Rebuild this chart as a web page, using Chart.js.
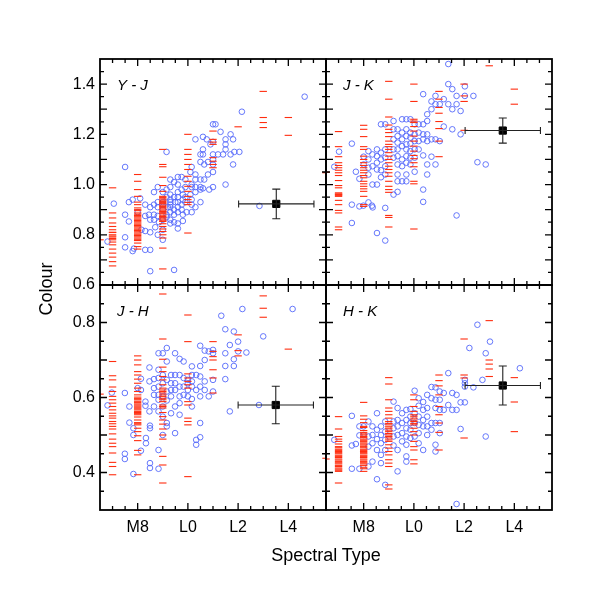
<!DOCTYPE html>
<html>
<head>
<meta charset="utf-8">
<script src="https://cdn.jsdelivr.net/npm/chart.js@4.4.1/dist/chart.umd.min.js"></script>
<style>
  body { margin: 0; background: #fff; }
  #wrap { position: relative; width: 613px; height: 600px; font-family: Arial, "Liberation Sans", sans-serif; color: #000; }
  #wrap canvas { position: absolute; left: 0; top: 0; }
  .axisTitle { position: absolute; font-size: 18px; line-height: 20px; white-space: nowrap; text-align: center; }
  #xTitle { left: 226px; top: 545px; width: 200px; }
  #yTitle { left: -4px; top: 279px; width: 100px; transform: rotate(-90deg); }
</style>
</head>
<body>
<div id="wrap">
  <canvas id="yj" width="613" height="600"></canvas>
  <canvas id="jk" width="613" height="600"></canvas>
  <canvas id="jh" width="613" height="600"></canvas>
  <canvas id="hk" width="613" height="600"></canvas>
  <div class="axisTitle" id="xTitle">Spectral Type</div>
  <div class="axisTitle" id="yTitle">Colour</div>
</div>
<script>
// spectral type axis: 8 = M8, 10 = L0, 12 = L2 ...
const xLabelVals = [8, 10, 12, 14];
const yTopLabelVals = [0.6, 0.8, 1.0, 1.2, 1.4];
const yBotLabelVals = [0.4, 0.6, 0.8];

// ---- Y - J ----
const yjDashes = [
  [6.5, [0.78]],
  [7, [0.987, 0.887, 0.867, 0.847, 0.833, 0.82, 0.81, 0.809, 0.8, 0.795, 0.791, 0.785, 0.78, 0.771, 0.76, 0.743, 0.727, 0.711, 0.693, 0.676]],
  [8, [1.04, 1.013, 0.98, 0.953, 0.93, 0.92, 0.907, 0.9, 0.896, 0.887, 0.882, 0.877, 0.872, 0.867, 0.862, 0.857, 0.852, 0.847, 0.842,
       0.837, 0.832, 0.827, 0.822, 0.817, 0.812, 0.807, 0.802, 0.797, 0.792, 0.787, 0.782, 0.777, 0.767, 0.753, 0.743]],
  [9, [1.14, 1.08, 1.071, 1.029, 0.996, 0.973, 0.953, 0.948, 0.943, 0.938, 0.933, 0.928, 0.924, 0.918, 0.913, 0.908, 0.903, 0.898,
       0.893, 0.888, 0.884, 0.878, 0.873, 0.868, 0.863, 0.858, 0.853, 0.844, 0.833, 0.823, 0.813, 0.8, 0.787, 0.747, 0.664]],
  [10, [1.2, 1.14, 1.12, 1.1, 1.08, 1.06, 1.033, 1.013, 0.993, 0.973, 0.953, 0.94, 0.929, 0.92, 0.807]],
  [11, [1.213, 1.18, 1.169, 1.16, 1.107, 1.093, 1.08, 1.067]],
  [12, [1.23]],
  [13, [1.371, 1.267, 1.247, 1.227]],
  [14, [1.267, 1.196]],
  [15.5, [1.047]]
];
const yjCircles = [
  [6.8, 0.773], [7.05, 0.924], [7.5, 1.07], [7.5, 0.88], [7.5, 0.79], [7.5, 0.75], [7.65, 0.853], [7.65, 0.93],
  [7.8, 0.735], [7.85, 0.745], [7.8, 0.94], [8.0, 0.89], [8.1, 0.945], [8.15, 0.82], [8.3, 0.92], [8.3, 0.875],
  [8.3, 0.815], [8.3, 0.74], [8.5, 0.74], [8.5, 0.655], [8.5, 0.91], [8.5, 0.86], [8.5, 0.81], [8.45, 0.88],
  [8.65, 0.88], [8.65, 0.86], [8.7, 0.83], [8.65, 0.92], [8.65, 0.97], [8.8, 0.99], [8.8, 0.93], [8.8, 0.91],
  [8.8, 0.875], [8.8, 0.8], [8.85, 0.85], [9.0, 0.97], [9.0, 0.93], [9.0, 0.92], [9.0, 0.9], [9.0, 0.86],
  [9.0, 0.82], [9.0, 0.78], [9.15, 1.13], [9.15, 0.98], [9.15, 0.95], [9.2, 0.91], [9.15, 0.88], [9.15, 0.87],
  [9.3, 1.02], [9.3, 0.99], [9.3, 0.96], [9.3, 0.94], [9.3, 0.93], [9.3, 0.92], [9.3, 0.91], [9.3, 0.89],
  [9.3, 0.86], [9.3, 0.845], [9.45, 1.01], [9.45, 0.95], [9.5, 0.93], [9.45, 0.9], [9.45, 0.88], [9.45, 0.85],
  [9.45, 0.66], [9.6, 1.03], [9.6, 1.0], [9.6, 0.97], [9.6, 0.95], [9.6, 0.93], [9.6, 0.91], [9.6, 0.89],
  [9.6, 0.845], [9.6, 0.825], [9.75, 1.03], [9.75, 0.98], [9.8, 0.96], [9.8, 0.94], [9.75, 0.92], [9.75, 0.9],
  [9.8, 0.88], [9.8, 0.855], [9.9, 1.02], [9.9, 0.99], [9.9, 0.95], [9.9, 0.93], [9.95, 0.89], [10.15, 1.07],
  [10.1, 1.05], [10.15, 1.0], [10.15, 0.99], [10.1, 0.96], [10.15, 0.94], [10.15, 0.92], [10.15, 0.89], [10.3, 1.18],
  [10.3, 1.04], [10.3, 1.02], [10.3, 0.99], [10.3, 0.97], [10.3, 0.91], [10.5, 1.12], [10.5, 1.09], [10.5, 1.02],
  [10.5, 0.99], [10.5, 0.98], [10.5, 0.93], [10.6, 1.19], [10.6, 1.14], [10.6, 1.12], [10.65, 1.08], [10.65, 1.02],
  [10.6, 0.985], [10.75, 1.18], [10.8, 1.09], [10.8, 1.04], [10.85, 0.98], [10.9, 1.16], [11.0, 1.24], [11.0, 1.17],
  [11.0, 1.12], [11.0, 1.1], [11.0, 1.08], [11.0, 1.05], [11.0, 0.99], [11.1, 1.24], [11.3, 1.21], [11.2, 1.12],
  [11.5, 1.18], [11.5, 1.16], [11.5, 1.14], [11.4, 1.12], [11.5, 1.0], [11.7, 1.2], [11.8, 1.18], [11.7, 1.12],
  [11.85, 1.13], [11.8, 1.08], [12.05, 1.13], [12.15, 1.29], [12.85, 0.915], [14.65, 1.35]
];
const yjError = [13.52, 0.923, 1.5, 0.059];

// ---- J - K ----
const jkDashes = [
  [6.5, [1.049]],
  [7, [1.211, 1.151, 1.111, 1.087, 1.076, 1.067, 1.057, 1.047, 1.036, 1.016, 0.996, 0.987, 0.967, 0.963, 0.96, 0.957, 0.953, 0.937, 0.92, 0.897, 0.887, 0.831, 0.82]],
  [8, [1.236, 1.22, 1.191, 1.151, 1.14, 1.113, 1.1, 1.087, 1.076, 1.067, 1.057, 1.047, 1.036, 1.027, 1.013, 1.003, 0.993, 0.983, 0.973, 0.953, 0.92, 0.913]],
  [9, [1.411, 1.34, 1.269, 1.237, 1.22, 1.207, 1.191, 1.173, 1.16, 1.151, 1.14, 1.127, 1.113, 1.1, 1.087, 1.073, 1.06, 1.047, 1.033, 1.013, 0.993, 0.98, 0.969, 0.877, 0.869, 0.831]],
  [10, [1.4, 1.331, 1.26, 1.253, 1.247, 1.231, 1.213, 1.193, 1.173, 1.153, 1.133, 1.116, 1.103, 1.087, 1.071, 1.013, 1.003, 0.823]],
  [11, [1.371, 1.34, 1.307, 1.284, 1.251, 1.223, 1.173, 1.111]],
  [12, [1.4, 1.353, 1.331, 1.216]],
  [13, [1.473]],
  [14, [1.38, 1.32]]
];
const jkCircles = [
  [6.83, 1.071], [7.02, 1.131], [7.53, 1.163], [7.53, 0.92], [7.53, 0.847], [7.69, 1.051], [7.83, 1.023], [7.83, 0.913],
  [7.99, 0.916], [8.19, 0.929], [8.33, 0.916], [8.36, 0.909], [8.0, 1.111], [8.0, 1.08], [8.19, 1.133], [8.19, 1.1],
  [8.19, 1.067], [8.19, 1.04], [8.35, 1.12], [8.35, 1.073], [8.35, 1.0], [8.53, 1.14], [8.53, 1.113], [8.53, 1.087],
  [8.53, 1.06], [8.53, 1.0], [8.53, 0.807], [8.69, 1.24], [8.69, 1.127], [8.69, 1.1], [8.69, 1.057], [8.69, 1.029],
  [8.86, 1.24], [8.86, 1.14], [8.86, 1.107], [8.86, 1.073], [8.86, 1.04], [8.86, 0.907], [8.86, 0.777], [9.19, 1.253],
  [9.19, 1.22], [9.19, 1.18], [9.19, 1.14], [9.19, 1.107], [9.19, 0.96], [9.35, 1.22], [9.35, 1.193], [9.35, 1.167],
  [9.35, 1.14], [9.35, 1.113], [9.35, 1.08], [9.35, 1.04], [9.35, 1.013], [9.35, 0.971], [9.53, 1.26], [9.53, 1.207],
  [9.53, 1.18], [9.53, 1.153], [9.53, 1.1], [9.53, 1.073], [9.53, 1.013], [9.7, 1.26], [9.7, 1.22], [9.7, 1.193],
  [9.7, 1.16], [9.7, 1.14], [9.7, 1.113], [9.7, 1.087], [9.7, 1.04], [9.7, 1.013], [9.86, 1.26], [9.86, 1.207],
  [9.86, 1.187], [9.86, 1.163], [9.86, 1.133], [9.86, 1.107], [9.86, 1.08], [10.03, 1.24], [10.03, 1.2], [10.03, 1.173],
  [10.03, 1.14], [10.03, 1.107], [10.03, 1.051], [10.19, 1.24], [10.19, 1.207], [10.19, 1.173], [10.19, 1.14], [10.37, 1.36],
  [10.37, 1.24], [10.37, 1.2], [10.37, 1.18], [10.37, 1.116], [10.37, 0.98], [10.37, 0.931], [10.53, 1.28], [10.53, 1.253],
  [10.53, 1.2], [10.53, 1.173], [10.53, 1.08], [10.53, 1.04], [10.7, 1.331], [10.7, 1.3], [10.7, 1.18], [10.7, 1.111],
  [10.86, 1.353], [10.86, 1.32], [10.86, 1.18], [10.86, 1.08], [11.03, 1.32], [11.03, 1.173], [11.19, 1.34], [11.19, 1.231],
  [11.37, 1.48], [11.37, 1.4], [11.37, 1.32], [11.53, 1.38], [11.53, 1.3], [11.53, 1.22], [11.7, 1.353], [11.7, 1.32],
  [11.7, 0.877], [11.86, 1.293], [11.86, 1.2], [12.03, 1.391], [12.03, 1.353], [12.37, 1.353], [12.53, 1.089], [12.86, 1.08]
];
const jkError = [13.54, 1.215, 1.5, 0.05];

// ---- J - H ----
const jhDashes = [
  [6.5, [0.609]],
  [7, [0.696, 0.658, 0.647, 0.628, 0.616, 0.603, 0.594, 0.585, 0.576, 0.567, 0.558, 0.551, 0.545, 0.536, 0.53, 0.523, 0.516, 0.503, 0.489, 0.478, 0.469, 0.452, 0.427, 0.416, 0.394]],
  [8, [0.711, 0.7, 0.687, 0.669, 0.66, 0.649, 0.638, 0.625, 0.616, 0.607, 0.601, 0.597, 0.594, 0.59, 0.587, 0.583, 0.58, 0.577,
       0.574, 0.57, 0.567, 0.563, 0.56, 0.557, 0.554, 0.548, 0.54, 0.533, 0.53, 0.527, 0.518, 0.509, 0.498, 0.485, 0.459, 0.447, 0.394]],
  [9, [0.876, 0.756, 0.702, 0.681, 0.669, 0.656, 0.647, 0.634, 0.625, 0.62, 0.616, 0.612, 0.607, 0.603, 0.598, 0.594, 0.589, 0.58,
       0.576, 0.572, 0.56, 0.549, 0.54, 0.529, 0.516, 0.5, 0.489, 0.443, 0.42, 0.372]],
  [10, [0.82, 0.749, 0.663, 0.652, 0.643, 0.634, 0.625, 0.589, 0.58, 0.545, 0.536, 0.527, 0.389]],
  [11, [0.749, 0.723, 0.709, 0.7, 0.674, 0.652, 0.612]],
  [12, [0.767, 0.725, 0.711]],
  [13, [0.871, 0.838, 0.814]],
  [14, [0.729]],
  [15.5, [0.438]]
];
const jhCircles = [
  [6.8, 0.579], [6.97, 0.613], [7.49, 0.612], [7.49, 0.45], [7.49, 0.436], [7.67, 0.576], [7.67, 0.533], [7.83, 0.518],
  [7.83, 0.5], [7.83, 0.396], [8.0, 0.625], [8.13, 0.65], [8.13, 0.62], [8.13, 0.458], [8.31, 0.589], [8.31, 0.578],
  [8.33, 0.492], [8.33, 0.478], [8.47, 0.68], [8.47, 0.643], [8.47, 0.563], [8.49, 0.525], [8.49, 0.518], [8.49, 0.425],
  [8.49, 0.412], [8.65, 0.649], [8.65, 0.625], [8.65, 0.607], [8.65, 0.576], [8.83, 0.718], [8.83, 0.674], [8.83, 0.652],
  [8.83, 0.629], [8.83, 0.607], [8.83, 0.594], [8.83, 0.563], [8.83, 0.46], [8.83, 0.41], [9.0, 0.718], [9.0, 0.66],
  [9.0, 0.638], [9.0, 0.603], [9.0, 0.576], [9.0, 0.549], [9.0, 0.5], [9.16, 0.732], [9.16, 0.696], [9.16, 0.647],
  [9.16, 0.616], [9.16, 0.592], [9.16, 0.532], [9.16, 0.523], [9.33, 0.66], [9.33, 0.638], [9.33, 0.62], [9.33, 0.603],
  [9.33, 0.558], [9.49, 0.718], [9.49, 0.66], [9.49, 0.638], [9.49, 0.62], [9.49, 0.576], [9.49, 0.505], [9.67, 0.703],
  [9.67, 0.66], [9.67, 0.629], [9.67, 0.603], [9.67, 0.585], [9.67, 0.554], [9.83, 0.696], [9.83, 0.652], [9.83, 0.629],
  [9.83, 0.607], [10.0, 0.647], [10.0, 0.638], [10.0, 0.62], [10.0, 0.603], [10.16, 0.683], [10.16, 0.66], [10.16, 0.643],
  [10.16, 0.629], [10.16, 0.596], [10.16, 0.576], [10.33, 0.66], [10.33, 0.62], [10.33, 0.487], [10.33, 0.474], [10.49, 0.738],
  [10.49, 0.684], [10.49, 0.656], [10.49, 0.629], [10.49, 0.603], [10.49, 0.532], [10.49, 0.494], [10.67, 0.725], [10.67, 0.7],
  [10.67, 0.643], [10.67, 0.62], [10.83, 0.723], [10.83, 0.603], [11.0, 0.727], [11.0, 0.718], [11.0, 0.616], [11.0, 0.647],
  [11.33, 0.818], [11.49, 0.782], [11.49, 0.718], [11.49, 0.684], [11.49, 0.649], [11.67, 0.74], [11.67, 0.563], [11.83, 0.776],
  [11.83, 0.702], [11.83, 0.684], [12.0, 0.749], [12.0, 0.723], [12.17, 0.836], [12.33, 0.72], [12.83, 0.58], [13.0, 0.763],
  [14.17, 0.836]
];
const jhError = [13.5, 0.58, 1.5, 0.05];

// ---- H - K ----
const hkDashes = [
  [6.5, [0.436]],
  [7, [0.549, 0.516, 0.496, 0.489, 0.483, 0.476, 0.469, 0.466, 0.462, 0.459, 0.456, 0.453, 0.45, 0.446, 0.443, 0.44, 0.436, 0.433,
       0.429, 0.426, 0.423, 0.419, 0.416, 0.412, 0.409, 0.406, 0.403, 0.372]],
  [8, [0.587, 0.551, 0.542, 0.533, 0.523, 0.52, 0.512, 0.507, 0.503, 0.5, 0.496, 0.493, 0.489, 0.486, 0.483, 0.479, 0.476, 0.473,
       0.469, 0.466, 0.462, 0.459, 0.456, 0.453, 0.45, 0.446, 0.443, 0.44, 0.436, 0.433, 0.429, 0.426, 0.423, 0.419, 0.414, 0.41, 0.403]],
  [9, [0.653, 0.636, 0.594, 0.572, 0.563, 0.554, 0.545, 0.536, 0.531, 0.527, 0.522, 0.518, 0.513, 0.509, 0.504, 0.5, 0.496, 0.492,
       0.487, 0.483, 0.474, 0.465, 0.456, 0.447, 0.434, 0.425, 0.416, 0.367, 0.356]],
  [10, [0.607, 0.594, 0.576, 0.563, 0.554, 0.55, 0.545, 0.54, 0.536, 0.531, 0.527, 0.518, 0.509, 0.5, 0.483, 0.469, 0.46, 0.434, 0.423]],
  [11, [0.66, 0.645, 0.631, 0.607, 0.576, 0.554, 0.532, 0.507, 0.46]],
  [12, [0.756, 0.66, 0.652, 0.492]],
  [13, [0.805, 0.7, 0.689, 0.676, 0.656]],
  [14, [0.653, 0.588, 0.509]]
];
const hkCircles = [
  [6.83, 0.487], [7.53, 0.551], [7.53, 0.472], [7.69, 0.476], [7.53, 0.41], [7.83, 0.523], [7.83, 0.499], [7.83, 0.41],
  [8.0, 0.523], [8.0, 0.5], [8.19, 0.536], [8.19, 0.496], [8.19, 0.469], [8.19, 0.416], [8.35, 0.523], [8.35, 0.5],
  [8.35, 0.478], [8.35, 0.429], [8.53, 0.558], [8.53, 0.514], [8.53, 0.489], [8.53, 0.46], [8.53, 0.382], [8.69, 0.523],
  [8.69, 0.5], [8.69, 0.478], [8.69, 0.447], [8.69, 0.425], [8.86, 0.536], [8.86, 0.509], [8.86, 0.487], [8.86, 0.46],
  [8.86, 0.367], [9.19, 0.589], [9.19, 0.536], [9.19, 0.518], [9.19, 0.496], [9.19, 0.472], [9.35, 0.572], [9.35, 0.54],
  [9.35, 0.523], [9.35, 0.5], [9.35, 0.46], [9.35, 0.403], [9.53, 0.558], [9.53, 0.532], [9.53, 0.505], [9.53, 0.483],
  [9.7, 0.567], [9.7, 0.54], [9.7, 0.518], [9.7, 0.496], [9.7, 0.474], [9.7, 0.443], [9.7, 0.429], [9.86, 0.569],
  [9.86, 0.549], [9.86, 0.532], [9.86, 0.514], [9.86, 0.492], [10.03, 0.618], [10.03, 0.558], [10.03, 0.532], [10.03, 0.496],
  [10.19, 0.598], [10.19, 0.578], [10.19, 0.549], [10.19, 0.527], [10.19, 0.505], [10.19, 0.478], [10.37, 0.588], [10.37, 0.567],
  [10.37, 0.54], [10.37, 0.523], [10.37, 0.46], [10.53, 0.607], [10.53, 0.572], [10.53, 0.549], [10.53, 0.523], [10.53, 0.5],
  [10.7, 0.628], [10.7, 0.598], [10.7, 0.532], [10.7, 0.514], [10.86, 0.627], [10.86, 0.594], [10.86, 0.572], [10.86, 0.532],
  [10.86, 0.474], [10.86, 0.456], [11.03, 0.616], [11.03, 0.594], [11.03, 0.567], [11.03, 0.532], [11.03, 0.505], [11.19, 0.612],
  [11.19, 0.567], [11.37, 0.665], [11.37, 0.58], [11.53, 0.612], [11.53, 0.567], [11.7, 0.607], [11.7, 0.567], [11.7, 0.316],
  [11.86, 0.587], [11.86, 0.516], [12.03, 0.647], [12.03, 0.638], [12.03, 0.629], [12.03, 0.587], [12.21, 0.732], [12.37, 0.627],
  [12.53, 0.794], [12.73, 0.647], [12.86, 0.718], [12.86, 0.496], [13.03, 0.749], [14.22, 0.678]
];
const hkError = [13.54, 0.632, 1.5, 0.052];

const RED = "rgb(255, 45, 15)";
const BLUE = "rgb(85, 105, 250)";

function typeName(v) {
  return v < 10 ? "M" + v : "L" + (v - 10);
}

function dashPoints(cols) {
  const pts = [];
  cols.forEach(([type, vals]) => vals.forEach(v => pts.push({ x: type, y: v })));
  return pts;
}

// tick positions for the inward tick marks
function stepTicks(from, to, step, majorEvery) {
  const out = [];
  const n = Math.round((to - from) / step);
  for (let k = 1; k < n; k++) {
    const v = from + k * step;
    const major = Math.abs(v / majorEvery - Math.round(v / majorEvery)) < 1e-6;
    out.push({ v, major });
  }
  return out;
}

const framePlugin = {
  id: "frame",
  afterDatasetsDraw(chart, args, opts) {
    const { ctx, chartArea: a, scales: { x, y } } = chart;
    ctx.save();

    // error bar of the black square
    const [ex, ey, dx, dy] = opts.err;
    const px = x.getPixelForValue(ex), py = y.getPixelForValue(ey);
    const x0 = x.getPixelForValue(ex - dx), x1 = x.getPixelForValue(ex + dx);
    const y0 = y.getPixelForValue(ey - dy), y1 = y.getPixelForValue(ey + dy);
    ctx.strokeStyle = "#222";
    ctx.lineWidth = 1.1;
    ctx.beginPath();
    ctx.moveTo(x0, py); ctx.lineTo(x1, py);
    ctx.moveTo(x0, py - 3.5); ctx.lineTo(x0, py + 3.5);
    ctx.moveTo(x1, py - 3.5); ctx.lineTo(x1, py + 3.5);
    ctx.moveTo(px, y0); ctx.lineTo(px, y1);
    ctx.moveTo(px - 4, y0); ctx.lineTo(px + 4, y0);
    ctx.moveTo(px - 4, y1); ctx.lineTo(px + 4, y1);
    ctx.stroke();

    // inward ticks on all four sides
    ctx.strokeStyle = "#000";
    ctx.lineWidth = 1.3;
    ctx.beginPath();
    stepTicks(x.min, x.max, 0.5, 2).forEach(t => {
      const p = x.getPixelForValue(t.v);
      const len = t.major ? 7 : 4;
      ctx.moveTo(p, a.bottom); ctx.lineTo(p, a.bottom - len);
      ctx.moveTo(p, a.top); ctx.lineTo(p, a.top + len);
    });
    stepTicks(y.min, y.max, 0.05, 0.1).forEach(t => {
      const p = y.getPixelForValue(t.v);
      const len = t.major ? 7 : 4;
      ctx.moveTo(a.left, p); ctx.lineTo(a.left + len, p);
      ctx.moveTo(a.right, p); ctx.lineTo(a.right - len, p);
    });
    ctx.stroke();

    ctx.lineWidth = 1.8;
    ctx.strokeRect(a.left, a.top, a.right - a.left, a.bottom - a.top);

    ctx.fillStyle = "#000";
    ctx.font = "italic 15px Arial, 'Liberation Sans', sans-serif";
    ctx.textBaseline = "alphabetic";
    ctx.fillText(opts.label, a.left + 17, a.top + 31);
    ctx.restore();
  }
};

const tickFont = { family: "Arial, 'Liberation Sans', sans-serif", size: 16 };

function makePanel(id, p) {
  return new Chart(document.getElementById(id), {
    type: "scatter",
    data: {
      datasets: [
        {
          data: [{ x: p.err[0], y: p.err[1] }],
          pointStyle: "rect", pointRadius: 5.1,
          backgroundColor: "#000", borderColor: "#000", borderWidth: 1, clip: 0
        },
        {
          data: dashPoints(p.dashes),
          pointStyle: "line", pointRadius: 3.7,
          borderColor: RED, borderWidth: 1.1, clip: 0
        },
        {
          data: p.circles.map(([cx, cy]) => ({ x: cx, y: cy })),
          pointStyle: "circle", pointRadius: 2.8,
          borderColor: BLUE, backgroundColor: "rgba(0,0,0,0)", borderWidth: 0.9, clip: 0
        }
      ]
    },
    options: {
      responsive: false,
      animation: false,
      devicePixelRatio: 1,
      events: [],
      layout: { padding: p.pad },
      plugins: {
        legend: { display: false },
        tooltip: { enabled: false },
        frame: { label: p.label, err: p.err }
      },
      scales: {
        x: {
          type: "linear", min: 6.5, max: 15.5,
          display: p.showX,
          grid: { display: false, drawTicks: false },
          border: { display: false },
          afterBuildTicks: s => { s.ticks = xLabelVals.map(v => ({ value: v })); },
          afterFit: s => { s.height = p.showX ? 40 : 0; },
          ticks: {
            font: tickFont, color: "#000", padding: 8,
            maxRotation: 0, autoSkip: false,
            callback: v => typeName(v)
          }
        },
        y: {
          type: "linear", min: p.yRange[0], max: p.yRange[1],
          display: p.showY,
          grid: { display: false, drawTicks: false },
          border: { display: false },
          afterBuildTicks: s => { s.ticks = p.yLabels.map(v => ({ value: v })); },
          afterFit: s => { s.width = p.showY ? 100 : 0; },
          ticks: {
            font: tickFont, color: "#000", padding: 5,
            autoSkip: false,
            callback: v => v.toFixed(1)
          }
        }
      }
    },
    plugins: [framePlugin]
  });
}

makePanel("yj", {
  label: "Y - J", dashes: yjDashes, circles: yjCircles, err: yjError,
  yRange: [0.6, 1.5], yLabels: yTopLabelVals, showX: false, showY: true,
  pad: { left: 0, top: 59, right: 287, bottom: 315 }
});
makePanel("jk", {
  label: "J - K", dashes: jkDashes, circles: jkCircles, err: jkError,
  yRange: [0.6, 1.5], yLabels: yTopLabelVals, showX: false, showY: false,
  pad: { left: 326, top: 59, right: 61, bottom: 315 }
});
makePanel("jh", {
  label: "J - H", dashes: jhDashes, circles: jhCircles, err: jhError,
  yRange: [0.3, 0.9], yLabels: yBotLabelVals, showX: true, showY: true,
  pad: { left: 0, top: 285, right: 287, bottom: 50 }
});
makePanel("hk", {
  label: "H - K", dashes: hkDashes, circles: hkCircles, err: hkError,
  yRange: [0.3, 0.9], yLabels: yBotLabelVals, showX: true, showY: false,
  pad: { left: 326, top: 285, right: 61, bottom: 50 }
});
</script>
</body>
</html>
